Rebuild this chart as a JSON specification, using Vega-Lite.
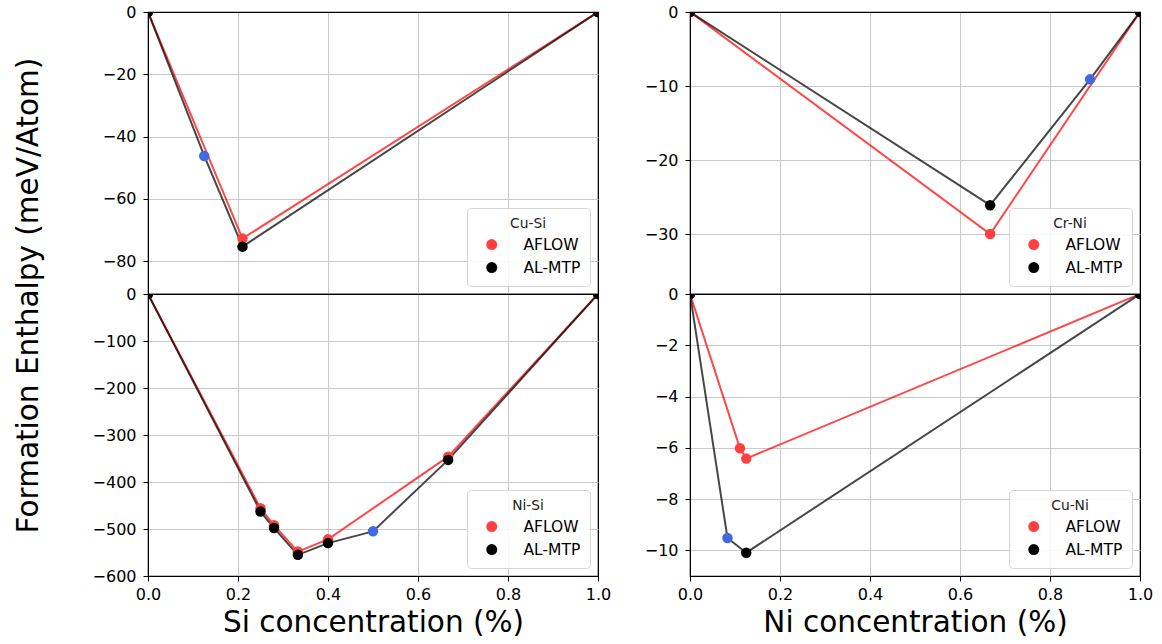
{
  "$schema": "https://vega.github.io/schema/vega-lite/v6.json",
  "background": "white",
  "padding": {"left": 12, "top": 3, "right": 5, "bottom": 5},
  "config": {
    "font": "DejaVu Sans",
    "view": {"stroke": "black", "strokeWidth": 1.2},
    "axis": {
      "labelFont": "DejaVu Sans",
      "labelFontSize": 16,
      "labelColor": "black",
      "labelFlush": false,
      "labelOverlap": false,
      "tickColor": "black",
      "tickSize": 5,
      "domainColor": "black",
      "gridWidth": 1,
      "titleFont": "DejaVu Sans",
      "titleFontSize": 29.5,
      "titleFontWeight": "normal",
      "titleColor": "black"
    },
    "axisY": {"labelPadding": 7},
    "axisX": {"labelPadding": 5, "titlePadding": 6},
    "legend": {
      "orient": "bottom-right",
      "offset": 8,
      "padding": 9,
      "fillColor": "rgba(255,255,255,0.85)",
      "strokeColor": "#d6d6d6",
      "cornerRadius": 4,
      "titleFont": "DejaVu Sans",
      "titleFontSize": 13.8,
      "titleFontWeight": "normal",
      "titleColor": "#222",
      "titleAnchor": "middle",
      "titlePadding": 6,
      "labelFont": "DejaVu Sans",
      "labelFontSize": 15.5,
      "labelColor": "black",
      "labelOffset": 24,
      "symbolType": "circle",
      "symbolSize": 120,
      "symbolStrokeWidth": 0,
      "symbolOffset": 8,
      "rowPadding": 6
    }
  },
  "datasets": {
    "pts": [
      {"panel": "Cu-Si", "source": "AFLOW", "x": 0, "y": 0, "blue": false},
      {"panel": "Cu-Si", "source": "AFLOW", "x": 0.21, "y": -72.7, "blue": false},
      {"panel": "Cu-Si", "source": "AFLOW", "x": 1, "y": 0, "blue": false},
      {"panel": "Cu-Si", "source": "AL-MTP", "x": 0, "y": 0, "blue": false},
      {"panel": "Cu-Si", "source": "AL-MTP", "x": 0.125, "y": -46.2, "blue": true},
      {"panel": "Cu-Si", "source": "AL-MTP", "x": 0.21, "y": -75.3, "blue": false},
      {"panel": "Cu-Si", "source": "AL-MTP", "x": 1, "y": 0, "blue": false},

      {"panel": "Cr-Ni", "source": "AFLOW", "x": 0, "y": 0, "blue": false},
      {"panel": "Cr-Ni", "source": "AFLOW", "x": 0.667, "y": -30.0, "blue": false},
      {"panel": "Cr-Ni", "source": "AFLOW", "x": 1, "y": 0, "blue": false},
      {"panel": "Cr-Ni", "source": "AL-MTP", "x": 0, "y": 0, "blue": false},
      {"panel": "Cr-Ni", "source": "AL-MTP", "x": 0.667, "y": -26.1, "blue": false},
      {"panel": "Cr-Ni", "source": "AL-MTP", "x": 0.889, "y": -9.1, "blue": true},
      {"panel": "Cr-Ni", "source": "AL-MTP", "x": 1, "y": 0, "blue": false},

      {"panel": "Ni-Si", "source": "AFLOW", "x": 0, "y": 0, "blue": false},
      {"panel": "Ni-Si", "source": "AFLOW", "x": 0.25, "y": -456, "blue": false},
      {"panel": "Ni-Si", "source": "AFLOW", "x": 0.28, "y": -492, "blue": false},
      {"panel": "Ni-Si", "source": "AFLOW", "x": 0.333, "y": -548, "blue": false},
      {"panel": "Ni-Si", "source": "AFLOW", "x": 0.4, "y": -522, "blue": false},
      {"panel": "Ni-Si", "source": "AFLOW", "x": 0.667, "y": -346, "blue": false},
      {"panel": "Ni-Si", "source": "AFLOW", "x": 1, "y": 0, "blue": false},
      {"panel": "Ni-Si", "source": "AL-MTP", "x": 0, "y": 0, "blue": false},
      {"panel": "Ni-Si", "source": "AL-MTP", "x": 0.25, "y": -463, "blue": false},
      {"panel": "Ni-Si", "source": "AL-MTP", "x": 0.28, "y": -498, "blue": false},
      {"panel": "Ni-Si", "source": "AL-MTP", "x": 0.333, "y": -555, "blue": false},
      {"panel": "Ni-Si", "source": "AL-MTP", "x": 0.4, "y": -530, "blue": false},
      {"panel": "Ni-Si", "source": "AL-MTP", "x": 0.5, "y": -505, "blue": true},
      {"panel": "Ni-Si", "source": "AL-MTP", "x": 0.667, "y": -353, "blue": false},
      {"panel": "Ni-Si", "source": "AL-MTP", "x": 1, "y": 0, "blue": false},

      {"panel": "Cu-Ni", "source": "AFLOW", "x": 0, "y": 0, "blue": false},
      {"panel": "Cu-Ni", "source": "AFLOW", "x": 0.111, "y": -6.02, "blue": false},
      {"panel": "Cu-Ni", "source": "AFLOW", "x": 0.125, "y": -6.42, "blue": false},
      {"panel": "Cu-Ni", "source": "AFLOW", "x": 1, "y": 0, "blue": false},
      {"panel": "Cu-Ni", "source": "AL-MTP", "x": 0, "y": 0, "blue": false},
      {"panel": "Cu-Ni", "source": "AL-MTP", "x": 0.0833, "y": -9.52, "blue": true},
      {"panel": "Cu-Ni", "source": "AL-MTP", "x": 0.125, "y": -10.09, "blue": false},
      {"panel": "Cu-Ni", "source": "AL-MTP", "x": 1, "y": 0, "blue": false}
    ]
  },
  "columns": 2,
  "spacing": {"row": 0, "column": 92},
  "bounds": "flush",
  "resolve": {
    "scale": {"x": "independent", "y": "independent", "color": "independent"},
    "legend": {"color": "independent"}
  },
  "concat": [
    {
      "width": 450, "height": 282,
      "data": {"name": "pts"},
      "transform": [{"filter": "datum.panel === 'Cu-Si'"}],
      "encoding": {
        "x": {"field": "x", "type": "quantitative", "scale": {"domain": [0, 1], "nice": false, "zero": false},
              "axis": {"values": [0, 0.2, 0.4, 0.6, 0.8, 1], "labels": false, "ticks": false, "title": null,
                       "gridColor": {"condition": {"test": "datum.value === 0 || datum.value === 1", "value": "black"}, "value": "#c8c8c8"}}},
        "y": {"field": "y", "type": "quantitative", "scale": {"domain": [-90.5, 0], "nice": false, "zero": false},
              "axis": {"values": [0, -20, -40, -60, -80], "title": "Formation Enthalpy (meV/Atom)",
                       "titleX": -105, "titleY": 283, "titleAngle": 270, "titleAlign": "center", "titleBaseline": "bottom",
                       "gridColor": {"condition": {"test": "datum.value === 0", "value": "black"}, "value": "#c8c8c8"}}}
      },
      "layer": [
        {"transform": [{"filter": "datum.source === 'AFLOW'"}],
         "mark": {"type": "line", "strokeWidth": 2, "opacity": 0.72, "color": "#ff0000", "clip": true},
         "encoding": {"order": {"field": "x"}}},
        {"transform": [{"filter": "datum.source === 'AL-MTP'"}],
         "mark": {"type": "line", "strokeWidth": 2, "opacity": 0.72, "color": "#000000", "clip": true},
         "encoding": {"order": {"field": "x"}}},
        {"transform": [{"filter": "!datum.blue"}],
         "mark": {"type": "point", "filled": true, "size": 110, "opacity": 1, "clip": true},
         "encoding": {"color": {"field": "source", "type": "nominal", "scale": {"domain": ["AFLOW", "AL-MTP"], "range": ["#ff4040", "#000000"]}, "legend": {"title": "Cu-Si"}}}},
        {"transform": [{"filter": "datum.blue"}],
         "mark": {"type": "point", "filled": true, "size": 110, "opacity": 1, "color": "#4169e1", "clip": true},
         "encoding": {}}
      ]
    },
    {
      "width": 450, "height": 282,
      "data": {"name": "pts"},
      "transform": [{"filter": "datum.panel === 'Cr-Ni'"}],
      "encoding": {
        "x": {"field": "x", "type": "quantitative", "scale": {"domain": [0, 1], "nice": false, "zero": false},
              "axis": {"values": [0, 0.2, 0.4, 0.6, 0.8, 1], "labels": false, "ticks": false, "title": null,
                       "gridColor": {"condition": {"test": "datum.value === 0 || datum.value === 1", "value": "black"}, "value": "#c8c8c8"}}},
        "y": {"field": "y", "type": "quantitative", "scale": {"domain": [-38.1, 0], "nice": false, "zero": false},
              "axis": {"values": [0, -10, -20, -30], "title": null,
                       "gridColor": {"condition": {"test": "datum.value === 0", "value": "black"}, "value": "#c8c8c8"}}}
      },
      "layer": [
        {"transform": [{"filter": "datum.source === 'AFLOW'"}],
         "mark": {"type": "line", "strokeWidth": 2, "opacity": 0.72, "color": "#ff0000", "clip": true},
         "encoding": {"order": {"field": "x"}}},
        {"transform": [{"filter": "datum.source === 'AL-MTP'"}],
         "mark": {"type": "line", "strokeWidth": 2, "opacity": 0.72, "color": "#000000", "clip": true},
         "encoding": {"order": {"field": "x"}}},
        {"transform": [{"filter": "!datum.blue"}],
         "mark": {"type": "point", "filled": true, "size": 110, "opacity": 1, "clip": true},
         "encoding": {"color": {"field": "source", "type": "nominal", "scale": {"domain": ["AFLOW", "AL-MTP"], "range": ["#ff4040", "#000000"]}, "legend": {"title": "Cr-Ni"}}}},
        {"transform": [{"filter": "datum.blue"}],
         "mark": {"type": "point", "filled": true, "size": 110, "opacity": 1, "color": "#4169e1", "clip": true},
         "encoding": {}}
      ]
    },
    {
      "width": 450, "height": 282,
      "data": {"name": "pts"},
      "transform": [{"filter": "datum.panel === 'Ni-Si'"}],
      "encoding": {
        "x": {"field": "x", "type": "quantitative", "scale": {"domain": [0, 1], "nice": false, "zero": false},
              "axis": {"values": [0, 0.2, 0.4, 0.6, 0.8, 1], "format": ".1f", "title": "Si concentration (%)",
                       "gridColor": {"condition": {"test": "datum.value === 0 || datum.value === 1", "value": "black"}, "value": "#c8c8c8"}}},
        "y": {"field": "y", "type": "quantitative", "scale": {"domain": [-600, 0], "nice": false, "zero": false},
              "axis": {"values": [0, -100, -200, -300, -400, -500, -600], "title": null,
                       "gridColor": {"condition": {"test": "datum.value === 0 || datum.value === -600", "value": "black"}, "value": "#c8c8c8"}}}
      },
      "layer": [
        {"transform": [{"filter": "datum.source === 'AFLOW'"}],
         "mark": {"type": "line", "strokeWidth": 2, "opacity": 0.72, "color": "#ff0000", "clip": true},
         "encoding": {"order": {"field": "x"}}},
        {"transform": [{"filter": "datum.source === 'AL-MTP'"}],
         "mark": {"type": "line", "strokeWidth": 2, "opacity": 0.72, "color": "#000000", "clip": true},
         "encoding": {"order": {"field": "x"}}},
        {"transform": [{"filter": "!datum.blue"}],
         "mark": {"type": "point", "filled": true, "size": 110, "opacity": 1, "clip": true},
         "encoding": {"color": {"field": "source", "type": "nominal", "scale": {"domain": ["AFLOW", "AL-MTP"], "range": ["#ff4040", "#000000"]}, "legend": {"title": "Ni-Si"}}}},
        {"transform": [{"filter": "datum.blue"}],
         "mark": {"type": "point", "filled": true, "size": 110, "opacity": 1, "color": "#4169e1", "clip": true},
         "encoding": {}}
      ]
    },
    {
      "width": 450, "height": 282,
      "data": {"name": "pts"},
      "transform": [{"filter": "datum.panel === 'Cu-Ni'"}],
      "encoding": {
        "x": {"field": "x", "type": "quantitative", "scale": {"domain": [0, 1], "nice": false, "zero": false},
              "axis": {"values": [0, 0.2, 0.4, 0.6, 0.8, 1], "format": ".1f", "title": "Ni concentration (%)",
                       "gridColor": {"condition": {"test": "datum.value === 0 || datum.value === 1", "value": "black"}, "value": "#c8c8c8"}}},
        "y": {"field": "y", "type": "quantitative", "scale": {"domain": [-11, 0], "nice": false, "zero": false},
              "axis": {"values": [0, -2, -4, -6, -8, -10], "title": null,
                       "gridColor": {"condition": {"test": "datum.value === 0", "value": "black"}, "value": "#c8c8c8"}}}
      },
      "layer": [
        {"transform": [{"filter": "datum.source === 'AFLOW'"}],
         "mark": {"type": "line", "strokeWidth": 2, "opacity": 0.72, "color": "#ff0000", "clip": true},
         "encoding": {"order": {"field": "x"}}},
        {"transform": [{"filter": "datum.source === 'AL-MTP'"}],
         "mark": {"type": "line", "strokeWidth": 2, "opacity": 0.72, "color": "#000000", "clip": true},
         "encoding": {"order": {"field": "x"}}},
        {"transform": [{"filter": "!datum.blue"}],
         "mark": {"type": "point", "filled": true, "size": 110, "opacity": 1, "clip": true},
         "encoding": {"color": {"field": "source", "type": "nominal", "scale": {"domain": ["AFLOW", "AL-MTP"], "range": ["#ff4040", "#000000"]}, "legend": {"title": "Cu-Ni"}}}},
        {"transform": [{"filter": "datum.blue"}],
         "mark": {"type": "point", "filled": true, "size": 110, "opacity": 1, "color": "#4169e1", "clip": true},
         "encoding": {}}
      ]
    }
  ]
}
